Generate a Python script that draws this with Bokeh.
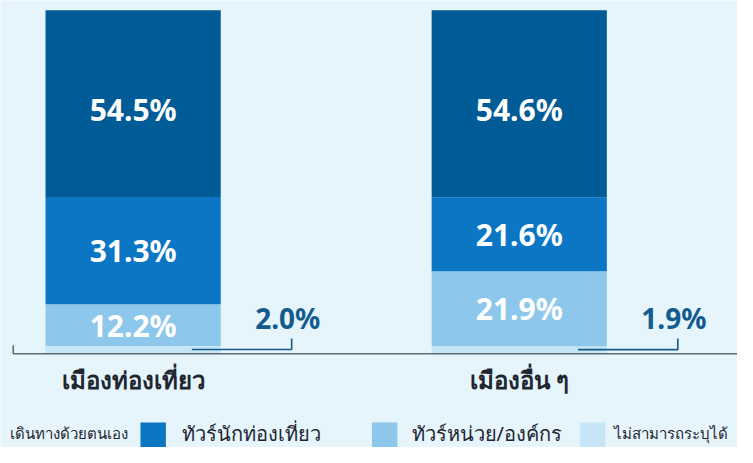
from bokeh.plotting import figure
from bokeh.models import ColumnDataSource, Range1d
from bokeh.core.properties import value
from bokeh.embed import file_html
from bokeh.resources import INLINE

# ---- data ----
cities = ["เมืองท่องเที่ยว", "เมืองอื่น ๆ"]
series = ["เดินทางด้วยตนเอง", "ทัวร์นักท่องเที่ยว", "ทัวร์หน่วย/องค์กร", "ไม่สามารถระบุได้"]
self_travel = [54.5, 54.6]
tourist_tour = [31.3, 21.6]
org_tour = [12.2, 21.9]
unknown = [2.0, 1.9]

colors = ["#015B97", "#0A76C4", "#8DC7EC", "#C6E6F8"]
BG = "#E6F4FC"

xs = list(range(len(cities)))
src = ColumnDataSource(dict(
    x=xs, city=cities,
    unknown=unknown, org=org_tour, tourist=tourist_tour, selft=self_travel,
))

# layout helpers (reference pixel -> data), style only
PX_PER_UNIT = 394.5
X0 = 135.5
PX_PER_PCT = 3.55
Y0 = 365.0
def dx(px):
    return (px - X0) / PX_PER_UNIT
def dy(py):
    return (Y0 - py) / PX_PER_PCT

W, H = 737, 447
p = figure(width=W, height=H, output_backend="svg", toolbar_location=None,
           x_range=Range1d(dx(0), dx(753)), y_range=Range1d(dy(463), dy(0)),
           min_border=0, background_fill_color=BG, border_fill_color=BG)
p.axis.visible = False
p.grid.visible = False
p.outline_line_color = None

stack_keys = ["unknown", "org", "tourist", "selft"]
stack_colors = [colors[3], colors[2], colors[1], colors[0]]
p.vbar_stack(stack_keys, x="x", width=179 / PX_PER_UNIT, color=stack_colors,
             line_color=None, source=src)

# axis base line with left tick
p.line(x=[dx(13), dx(13), dx(800)], y=[dy(357), dy(366), dy(366)],
       line_color="#5E6A74", line_width=1.5)

# in-bar labels (white) for the three larger segments
lab_x, lab_y, lab_t = [], [], []
for i in xs:
    b0 = unknown[i]
    b1 = b0 + org_tour[i]
    b2 = b1 + tourist_tour[i]
    b3 = b2 + self_travel[i]
    for lo, hi, v in [(b0, b1, org_tour[i]), (b1, b2, tourist_tour[i]), (b2, b3, self_travel[i])]:
        lab_x.append(i)
        lab_y.append((lo + hi) / 2)
        lab_t.append(f"{v:.1f}%")
lab_y = [y - 1.8 if y > 60 else y for y in lab_y]
p.text(x=lab_x, y=lab_y, text=lab_t, text_color="white", text_font=value("Noto Sans"),
       text_font_style="bold", text_font_size="30px", text_align="center",
       text_baseline="middle")

# callouts for the small "unknown" segment
cx0 = [i + 60 / PX_PER_UNIT for i in xs]
cx1 = [i + 162 / PX_PER_UNIT for i in xs]
cy = [u / 2 for u in unknown]
p.multi_line(xs=[[a, b, b] for a, b in zip(cx0, cx1)],
             ys=[[c, c, dy(350)] for c in cy],
             line_color="#17598A", line_width=1.6)
p.text(x=[i + 158 / PX_PER_UNIT for i in xs], y=[dy(329)] * len(xs),
       text=[f"{u:.1f}%" for u in unknown], text_color="#135B8E",
       text_font=value("Noto Sans"), text_font_style="bold", text_font_size="28px",
       text_align="center", text_baseline="middle")

# category labels
p.text(x=xs, y=[dy(393)] * len(xs), text=cities, text_color="#1E2630",
       text_font=value("Noto Sans"), text_font_style="bold", text_font_size="24px",
       text_align="center", text_baseline="middle")

# legend (manual, horizontal)
leg_marker_px = [-100, 156, 392.5, 605]
leg_text_px = [130, 185, 420, 627]
leg_align = ["right", "left", "left", "left"]
leg_size = ["15px", "20px", "20px", "15px"]
p.rect(x=[dx(v) for v in leg_marker_px], y=[dy(450)] * 4,
       width=26 / PX_PER_UNIT, height=26 / PX_PER_PCT, color=colors, line_color=None)
for t, px, al, fs in zip(series, leg_text_px, leg_align, leg_size):
    p.text(x=[dx(px)], y=[dy(448)], text=[t], text_color="#1E2630",
           text_font=value("Noto Sans"), text_font_size=fs,
           text_align=al, text_baseline="middle")

open("out.html", "w").write(file_html(p, INLINE))
